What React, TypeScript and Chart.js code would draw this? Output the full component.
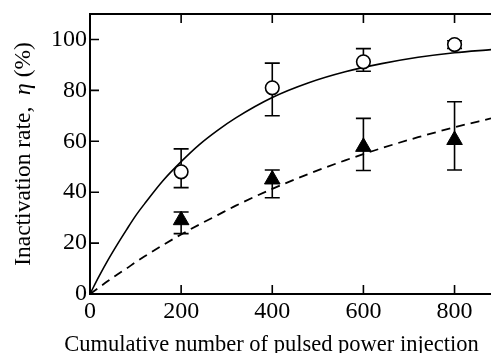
import React, { useEffect, useRef } from "react";
import { Chart, registerables } from "chart.js";

Chart.register(...registerables);

// Measured data
const pulseCounts = [200, 400, 600, 800];
const circleValues = [48, 81, 91.2, 98];
const circleLow = [41.8, 70, 87.5, 96.5];
const circleHigh = [57, 90.7, 96.4, 99.5];
const triangleValues = [29, 45, 57.8, 60.5];
const triangleLow = [23.7, 37.8, 48.5, 48.7];
const triangleHigh = [32.2, 48.7, 69, 75.5];

// Fitted curves
const curveX = [0, 20, 40, 60, 80, 100, 120, 160, 200, 240, 280, 320, 400, 480, 560, 640, 720, 800, 880];
const solidCurveY = [0, 7, 13.5, 19.5, 25.2, 30.7, 35.5, 44.5, 52, 58.7, 64.3, 69.2, 77.2, 83, 87.3, 90.5, 93, 94.8, 96];
const dashedCurveY = [0, 2.6, 5.2, 7.7, 10, 12.5, 14.8, 19.2, 23.4, 27.3, 31, 34.7, 41.3, 47.2, 52.5, 57.3, 61.6, 65.5, 69];

const xTickValues = [0, 200, 400, 600, 800];
const yTickValues = [0, 20, 40, 60, 80, 100];

const xTitle = "Cumulative number of pulsed power injection";
const yTitleParts = ["Inactivation rate,  ", "\u03b7", " (%)"];

const FONT = "'Liberation Serif', 'Times New Roman', serif";

// Plot-area frame in canvas pixels
const AREA = { left: 90, right: 491, top: 14, bottom: 294 };
const CANVAS_W = 491;
const CANVAS_H = 353;

export default function App() {
  const canvasRef = useRef<HTMLCanvasElement | null>(null);

  useEffect(() => {
    document.body.style.margin = "0";
    const canvas = canvasRef.current;
    if (!canvas) return;

    const framePlugin = {
      id: "frame",
      afterLayout(chart: any) {
        const ca = chart.chartArea;
        ca.left = AREA.left;
        ca.right = AREA.right;
        ca.top = AREA.top;
        ca.bottom = AREA.bottom;
        ca.width = AREA.right - AREA.left;
        ca.height = AREA.bottom - AREA.top;
        const xs = chart.scales.x;
        const ys = chart.scales.y;
        xs.left = AREA.left;
        xs.right = AREA.right;
        xs.width = AREA.right - AREA.left;
        xs.top = AREA.bottom;
        xs.bottom = CANVAS_H;
        xs.height = CANVAS_H - AREA.bottom;
        ys.left = 0;
        ys.right = AREA.left;
        ys.width = AREA.left;
        ys.top = AREA.top;
        ys.bottom = AREA.bottom;
        ys.height = AREA.bottom - AREA.top;
        xs.configure();
        ys.configure();
      },
      beforeDatasetsDraw(chart: any) {
        const ctx = chart.ctx;
        const xs = chart.scales.x;
        const ys = chart.scales.y;
        ctx.save();
        ctx.strokeStyle = "#000";
        ctx.lineWidth = 1.6;
        const drawBars = (vals: number[], lo: number[], hi: number[]) => {
          vals.forEach((_, i) => {
            const px = xs.getPixelForValue(pulseCounts[i]);
            const pl = ys.getPixelForValue(lo[i]);
            const ph = ys.getPixelForValue(hi[i]);
            ctx.beginPath();
            ctx.moveTo(px, pl);
            ctx.lineTo(px, ph);
            ctx.moveTo(px - 7.5, pl);
            ctx.lineTo(px + 7.5, pl);
            ctx.moveTo(px - 7.5, ph);
            ctx.lineTo(px + 7.5, ph);
            ctx.stroke();
          });
        };
        drawBars(circleValues, circleLow, circleHigh);
        drawBars(triangleValues, triangleLow, triangleHigh);
        ctx.restore();
      },
      afterDraw(chart: any) {
        const ctx = chart.ctx;
        const xs = chart.scales.x;
        const ys = chart.scales.y;
        const { left, right, top, bottom } = chart.chartArea;
        ctx.save();
        ctx.strokeStyle = "#000";
        ctx.lineWidth = 2;
        ctx.beginPath();
        ctx.moveTo(right + 2, top);
        ctx.lineTo(left, top);
        ctx.lineTo(left, bottom);
        ctx.lineTo(right + 2, bottom);
        ctx.stroke();
        ctx.lineWidth = 1.6;
        ctx.beginPath();
        xTickValues.forEach((v) => {
          if (v === 0) return;
          const px = xs.getPixelForValue(v);
          ctx.moveTo(px, bottom);
          ctx.lineTo(px, bottom - 9);
          ctx.moveTo(px, top);
          ctx.lineTo(px, top + 9);
        });
        yTickValues.forEach((v) => {
          if (v === 0) return;
          const py = ys.getPixelForValue(v);
          ctx.moveTo(left, py);
          ctx.lineTo(left + 9, py);
        });
        ctx.stroke();

        ctx.fillStyle = "#000";
        ctx.textBaseline = "alphabetic";

        // x-axis title
        ctx.font = `22.5px ${FONT}`;
        ctx.textAlign = "center";
        ctx.fillText(xTitle, 271.5, 351);

        // y-axis title with italic eta
        const fonts = [`23.5px ${FONT}`, `italic 23.5px ${FONT}`, `23.5px ${FONT}`];
        let total = 0;
        yTitleParts.forEach((t, i) => {
          ctx.font = fonts[i];
          total += ctx.measureText(t).width;
        });
        ctx.translate(29.5, 154);
        ctx.rotate(-Math.PI / 2);
        ctx.textAlign = "left";
        let x = -total / 2;
        yTitleParts.forEach((t, i) => {
          ctx.font = fonts[i];
          ctx.fillText(t, x, 0);
          x += ctx.measureText(t).width;
        });
        ctx.restore();
      },
    };

    const chart = new Chart(canvas, {
      type: "scatter",
      data: {
        datasets: [
          {
            label: "circles",
            data: pulseCounts.map((x, i) => ({ x, y: circleValues[i] })),
            pointStyle: "circle",
            pointRadius: 6.8,
            pointBackgroundColor: "#fff",
            pointBorderColor: "#000",
            pointBorderWidth: 1.6,
            order: 1,
          },
          {
            label: "triangles",
            data: pulseCounts.map((x, i) => ({ x, y: triangleValues[i] })),
            pointStyle: "triangle",
            pointRadius: 9,
            pointBackgroundColor: "#000",
            pointBorderColor: "#000",
            pointBorderWidth: 1,
            order: 1,
          },
          {
            label: "solid fit",
            data: curveX.map((x, i) => ({ x, y: solidCurveY[i] })),
            showLine: true,
            borderColor: "#000",
            borderWidth: 1.6,
            pointRadius: 0,
            cubicInterpolationMode: "monotone",
            order: 2,
          },
          {
            label: "dashed fit",
            data: curveX.map((x, i) => ({ x, y: dashedCurveY[i] })),
            showLine: true,
            borderColor: "#000",
            borderWidth: 1.8,
            borderDash: [9, 6],
            pointRadius: 0,
            cubicInterpolationMode: "monotone",
            order: 2,
          },
        ],
      },
      options: {
        animation: false,
        responsive: false,
        maintainAspectRatio: false,
        layout: { padding: { top: 14, right: 0, left: 0, bottom: 0 } },
        plugins: { legend: { display: false }, tooltip: { enabled: false } },
        scales: {
          x: {
            type: "linear",
            min: 0,
            max: 880,
            grid: { display: false, drawTicks: false },
            border: { display: false },
            ticks: {
              stepSize: 200,
              includeBounds: false,
              maxRotation: 0,
              padding: 3,
              color: "#000",
              font: { family: "Liberation Serif", size: 24 },
            },
          },
          y: {
            min: 0,
            max: 110,
            grid: { display: false, drawTicks: false },
            border: { display: false },
            ticks: {
              stepSize: 20,
              includeBounds: false,
              padding: 3,
              color: "#000",
              font: { family: "Liberation Serif", size: 24 },
            },
          },
        },
      },
      plugins: [framePlugin],
    } as any);

    return () => chart.destroy();
  }, []);

  return (
    <div style={{ position: "absolute", left: 0, top: 0, width: CANVAS_W, height: CANVAS_H }}>
      <canvas ref={canvasRef} width={CANVAS_W} height={CANVAS_H} style={{ width: CANVAS_W, height: CANVAS_H }} />
    </div>
  );
}
